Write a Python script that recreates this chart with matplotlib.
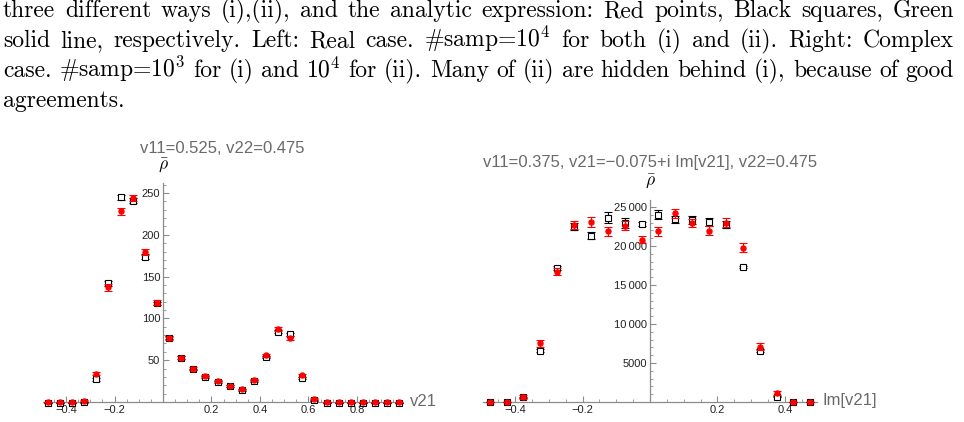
import numpy as np
import matplotlib
matplotlib.use('Agg')
import matplotlib.pyplot as plt
from matplotlib.ticker import FixedLocator, MultipleLocator

plt.rcParams['mathtext.fontset'] = 'cm'

# caption lines (justified, last one left aligned)
caption = [
    "three different ways (i),(ii), and the analytic expression: Red points, Black squares, Green",
    "solid line, respectively. Left: Real case. #samp=$10^4$ for both (i) and (ii). Right: Complex",
    "case. #samp=$10^3$ for (i) and $10^4$ for (ii). Many of (ii) are hidden behind (i), because of good",
    "agreements.",
]

# left panel: real case
left_x = [-0.475, -0.425, -0.375, -0.325, -0.275, -0.225, -0.175, -0.125, -0.075, -0.025,
          0.025, 0.075, 0.125, 0.175, 0.225, 0.275, 0.325, 0.375, 0.425, 0.475,
          0.525, 0.575, 0.625, 0.675, 0.725, 0.775, 0.825, 0.875, 0.925, 0.975]
left_red = [0, 0, 0, 1.5, 34, 137, 228, 244, 179, 119,
            76, 53, 40, 31, 25, 19.5, 15, 26, 56, 87.5,
            77, 32, 4, 0, 0, 0, 0, 0, 0, 0]
left_red_err = [0.3, 0.3, 0.3, 0.6, 2, 4, 4, 4, 3.5, 2.5,
                2, 1.5, 1.5, 1, 1, 1, 1, 1, 2, 2.5,
                2.5, 1.5, 0.6, 0.3, 0.3, 0.3, 0.3, 0.3, 0.3, 0.3]
left_black = [-1, -1, -1, -0.5, 27, 142, 245, 241, 174, 118,
              77, 53, 39, 30, 24, 19, 14, 25, 54, 84,
              81, 29, 2, -1, -1, -1, -1, -1, -1, -1]
left_black_err = [0.2, 0.2, 0.2, 0.4, 1.5, 3, 3, 3, 3, 2,
                  2, 1.5, 1, 1, 1, 1, 1, 1, 1.5, 2,
                  2, 1, 0.5, 0.2, 0.2, 0.2, 0.2, 0.2, 0.2, 0.2]
left_xticks = [-0.4, -0.2, 0.2, 0.4, 0.6, 0.8, 1.0]
left_xlabels = ['\u22120.4', '\u22120.2', '0.2', '0.4', '0.6', '0.8', '1.0']
left_yticks = [50, 100, 150, 200, 250]

# right panel: complex case
right_x = [-0.475, -0.425, -0.375, -0.325, -0.275, -0.225, -0.175, -0.125, -0.075, -0.025,
           0.025, 0.075, 0.125, 0.175, 0.225, 0.275, 0.325, 0.375, 0.425, 0.475]
right_red = [0, 0, 640, 7560, 16700, 22700, 23100, 21900, 22600, 20800,
             21900, 24200, 23000, 21950, 23000, 19800, 7100, 1100, 0, 0]
right_red_err = [60, 60, 200, 450, 450, 550, 600, 600, 550, 450,
                 600, 600, 500, 600, 550, 550, 450, 250, 60, 60]
right_black = [0, 0, 600, 6600, 17200, 22500, 21300, 23600, 23000, 22800,
               24000, 23400, 23350, 23100, 22700, 17350, 6600, 700, 0, 0]
right_black_err = [40, 40, 100, 150, 250, 500, 450, 700, 650, 250,
                   600, 500, 550, 550, 450, 150, 150, 100, 40, 40]
right_xticks = [-0.4, -0.2, 0.2, 0.4]
right_xlabels = ['\u22120.4', '\u22120.2', '0.2', '0.4']
right_yticks = [5000, 10000, 15000, 20000, 25000]
right_ylabels = ['5000', '10\u2009000', '15\u2009000', '20\u2009000', '25\u2009000']

W, H = 964, 422
fig = plt.figure(figsize=(W / 100, H / 100), dpi=100)


def px(x, y):
    return x / W, 1 - y / H


def axes_px(l, r, top, bot):
    return fig.add_axes([l / W, 1 - bot / H, (r - l) / W, (bot - top) / H])


sans = ['Liberation Sans', 'DejaVu Sans']
axis_gray = '#8c8c8c'
label_gray = '#6a6a6a'


def style_axes(ax):
    for s in ['top', 'right']:
        ax.spines[s].set_visible(False)
    for s in ['left', 'bottom']:
        ax.spines[s].set_position(('data', 0))
        ax.spines[s].set_color(axis_gray)
        ax.spines[s].set_linewidth(0.9)
    ax.patch.set_alpha(0)
    ax.tick_params(which='both', direction='in', color=axis_gray, labelsize=8,
                   labelcolor='#222222', pad=2)
    ax.tick_params(which='major', length=4, width=0.8)
    ax.tick_params(which='minor', length=2, width=0.6)
    for t in ax.get_xticklabels() + ax.get_yticklabels():
        t.set_family(sans)


def draw_points(ax, x, black, black_err, red, red_err, cap):
    b = ax.errorbar(x, black, yerr=black_err, fmt='s', mfc='white', mec='black',
                    mew=0.8, ms=3.8, ecolor='black', elinewidth=0.8, capsize=cap,
                    capthick=0.8, zorder=3)
    r = ax.errorbar(x, red, yerr=red_err, fmt='o', color='red', ms=3.6,
                    ecolor='red', elinewidth=0.8, capsize=cap, capthick=0.8, zorder=4)
    for c in (b, r):
        for art in c.get_children():
            art.set_clip_on(False)


# left panel
ax1 = axes_px(43, 402, 183, 402)
draw_points(ax1, left_x, left_black, left_black_err, left_red, left_red_err, 2.6)
ax1.set_xlim(-0.495, 0.986)
ax1.set_ylim(0, 262)
ax1.xaxis.set_major_locator(FixedLocator(left_xticks))
ax1.set_xticklabels(left_xlabels)
ax1.xaxis.set_minor_locator(MultipleLocator(0.05))
ax1.yaxis.set_major_locator(FixedLocator(left_yticks))
ax1.yaxis.set_minor_locator(MultipleLocator(10))
style_axes(ax1)

# right panel
ax2 = axes_px(483, 817, 200, 402)
draw_points(ax2, right_x, right_black, right_black_err, right_red, right_red_err, 2.6)
ax2.set_xlim(-0.495, 0.495)
ax2.set_ylim(0, 25900)
ax2.xaxis.set_major_locator(FixedLocator(right_xticks))
ax2.set_xticklabels(right_xlabels)
ax2.xaxis.set_minor_locator(MultipleLocator(0.05))
ax2.yaxis.set_major_locator(FixedLocator(right_yticks))
ax2.set_yticklabels(right_ylabels)
ax2.yaxis.set_minor_locator(MultipleLocator(1000))
style_axes(ax2)

# titles and axis labels
fig.text(*px(140, 148), 'v11=0.525, v22=0.475', family=sans, fontsize=12,
         color=label_gray, va='center', ha='left')
fig.text(*px(483, 163), 'v11=0.375, v21=\u22120.075+i Im[v21], v22=0.475', family=sans,
         fontsize=12, color=label_gray, va='center', ha='left')
fig.text(*px(163, 166), r'$\bar{\rho}$', fontsize=12.5, ha='center', va='center')
fig.text(*px(650, 182), r'$\bar{\rho}$', fontsize=12.5, ha='center', va='center')
fig.text(*px(410, 401), 'v21', family=sans, fontsize=12, color=label_gray,
         va='center', ha='left')
fig.text(*px(822, 401), 'Im[v21]', family=sans, fontsize=12, color=label_gray,
         va='center', ha='left')

# caption, justified word by word
renderer = fig.canvas.get_renderer()
left_edge, right_edge = 3, 954
baselines = [17, 47, 77, 107]
cap_size = 17
for i, line in enumerate(caption):
    words = line.split(' ')
    texts = [fig.text(0, 0, w, family=['cmr10', 'DejaVu Serif'], fontsize=cap_size,
                      va='baseline', ha='left') for w in words]
    widths = [t.get_window_extent(renderer).width for t in texts]
    if i < len(caption) - 1:
        gap = (right_edge - left_edge - sum(widths)) / (len(words) - 1)
    else:
        gap = 7
    x = left_edge
    for t, w in zip(texts, widths):
        t.set_position(px(x, baselines[i]))
        x += w + gap

fig.savefig('out.png', dpi=100)
